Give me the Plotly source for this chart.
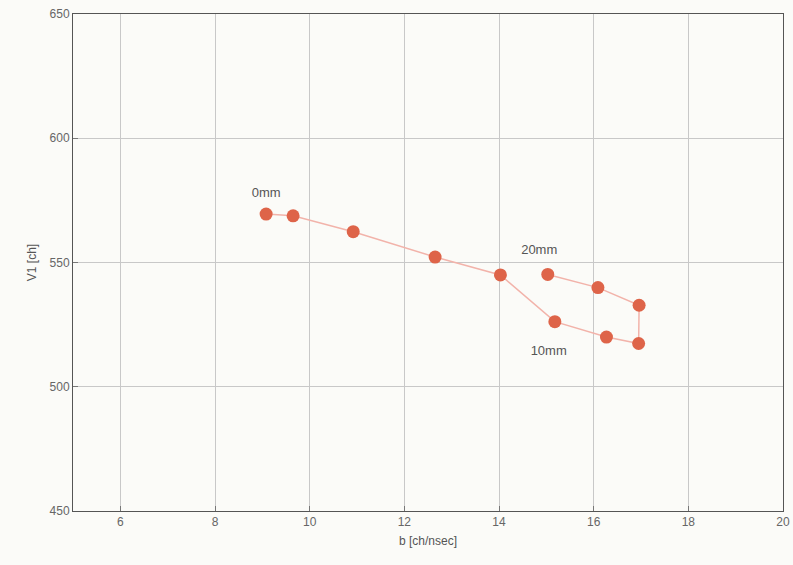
import plotly.graph_objects as go

b_vals = [9.08, 9.65, 10.92, 12.65, 14.03, 15.18, 16.27, 16.95, 16.96, 16.09, 15.03]
v1_vals = [569.5, 568.8, 562.4, 552.2, 545.0, 526.2, 520.0, 517.4, 532.8, 539.9, 545.2]

label_texts = ["0mm", "20mm", "10mm"]
label_x = [9.08, 14.85, 15.05]
label_y = [577.5, 554.8, 514.0]

x_ticks = [6, 8, 10, 12, 14, 16, 18, 20]
y_ticks = [450, 500, 550, 600, 650]

fig = go.Figure()
fig.add_trace(go.Scatter(
    x=b_vals, y=v1_vals, mode="lines",
    line=dict(color="#f2b3aa", width=1.5), showlegend=False, hoverinfo="skip"))
fig.add_trace(go.Scatter(
    x=b_vals, y=v1_vals, mode="markers",
    marker=dict(color="#de6449", size=13, line=dict(width=0)), showlegend=False))
fig.add_trace(go.Scatter(
    x=label_x, y=label_y, mode="text", text=label_texts,
    textfont=dict(family="Liberation Sans, Arial", size=13, color="#555555"),
    showlegend=False, hoverinfo="skip"))

axis_common = dict(
    showgrid=True, gridcolor="#c8c8c8", gridwidth=1,
    showline=True, linecolor="#555555", linewidth=1, mirror=True,
    ticks="inside", ticklen=5, tickcolor="#777777",
    tickfont=dict(family="Liberation Sans, Arial", size=12, color="#666666"),
    zeroline=False, automargin=False,
)
fig.update_xaxes(range=[5, 20], tickvals=x_ticks,
                 title=dict(text="b [ch/nsec]", standoff=8,
                            font=dict(family="Liberation Sans, Arial", size=12, color="#555555")),
                 **axis_common)
fig.update_yaxes(range=[450, 650], tickvals=y_ticks,
                 title=dict(text="V1 [ch]", standoff=10,
                            font=dict(family="Liberation Sans, Arial", size=12, color="#555555")),
                 **axis_common)
fig.update_layout(
    width=793, height=565,
    margin=dict(l=73, r=10, t=14, b=54),
    paper_bgcolor="#fbfbf8", plot_bgcolor="#fbfbf8",
)
fig.write_html("out.html")
